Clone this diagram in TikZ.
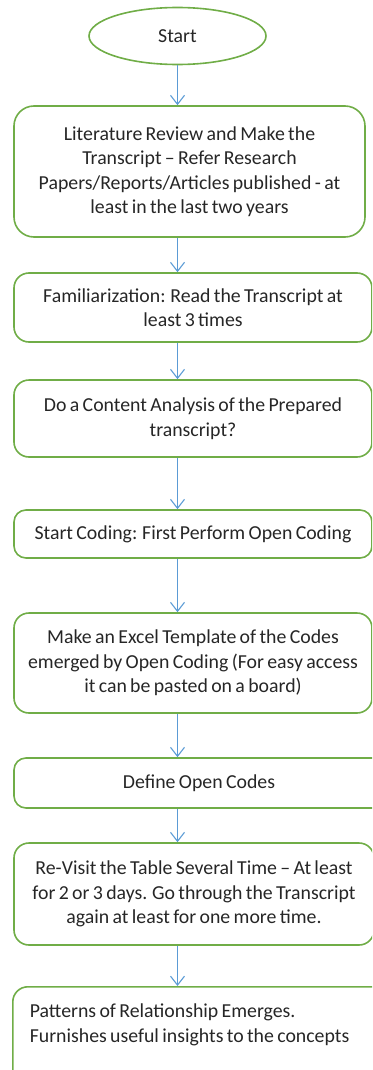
\documentclass[tikz,border=0pt]{standalone}
\usepackage{fontspec}
\setmainfont[WordSpace=0.75]{Carlito}
\usetikzlibrary{arrows.meta,shapes.geometric}
\definecolor{boxgreen}{RGB}{112,173,71}
\definecolor{arrowblue}{RGB}{91,155,213}
\begin{document}
\begin{tikzpicture}[x=1pt,y=1pt,font=\fontsize{19.8}{24.5}\selectfont,
        flowbox/.style={draw=boxgreen,line width=1.6pt,rounded corners=15pt,align=center,
            text=black!85,inner sep=0pt},
        flowarrow/.style={draw=arrowblue,line width=1.1pt,-{Straight Barb[length=9pt,width=14pt]}}]
    \useasboundingbox (0,0) rectangle (372,-1070);
    \clip (0,0) rectangle (372,-1070);
    \node[draw=boxgreen,line width=1.6pt,ellipse,minimum width=177,minimum height=57,
        inner sep=0pt,text=black!85] (start) at (177.5,-36) {Start};
    \node[flowbox,rounded corners=20pt,minimum width=351,minimum height=131] (review) at (189.5,-171.5)
        {Literature Review and Make the\\Transcript -- Refer Research\\
         Papers/Reports/Articles published - at\\least in the last two years};
    \node[flowbox,minimum width=358,minimum height=69] (familiar) at (193,-307.5)
        {Familiarization: Read the Transcript at\\least 3 times};
    \node[flowbox,minimum width=358,minimum height=77] (content) at (193,-418.5)
        {Do a Content Analysis of the Prepared\\transcript?};
    \node[flowbox,rounded corners=12pt,minimum width=358,minimum height=48] (coding) at (193,-534)
        {Start Coding: First Perform Open Coding};
    \node[flowbox,minimum width=358,minimum height=100] (template) at (193,-663)
        {Make an Excel Template of the Codes\\emerged by Open Coding (For easy access\\
         it can be pasted on a board)};
    \node[flowbox,rounded corners=12pt,minimum width=370,minimum height=50] (define) at (199,-783)
        {Define Open Codes};
    \node[flowbox,minimum width=360,minimum height=102] (revisit) at (194,-894)
        {Re-Visit the Table Several Time -- At least\\for 2 or 3 days. Go through the Transcript\\
         again at least for one more time.};
    \node[flowbox,anchor=north west,align=flush left,inner xsep=17pt,inner ysep=18pt,text width=340,
        text height=13pt,text depth=80pt] (patterns) at (12,-986)
        {\raggedright Patterns of Relationship Emerges.\par Furnishes useful insights to the concepts\par};
    % arrows all run down the same vertical line
    \foreach \a/\b in {start/review,review/familiar,familiar/content,content/coding,
            coding/template,template/define,define/revisit,revisit/patterns}
        \draw[flowarrow] (\a.south -| start) -- (\b.north -| start);
\end{tikzpicture}
\end{document}
